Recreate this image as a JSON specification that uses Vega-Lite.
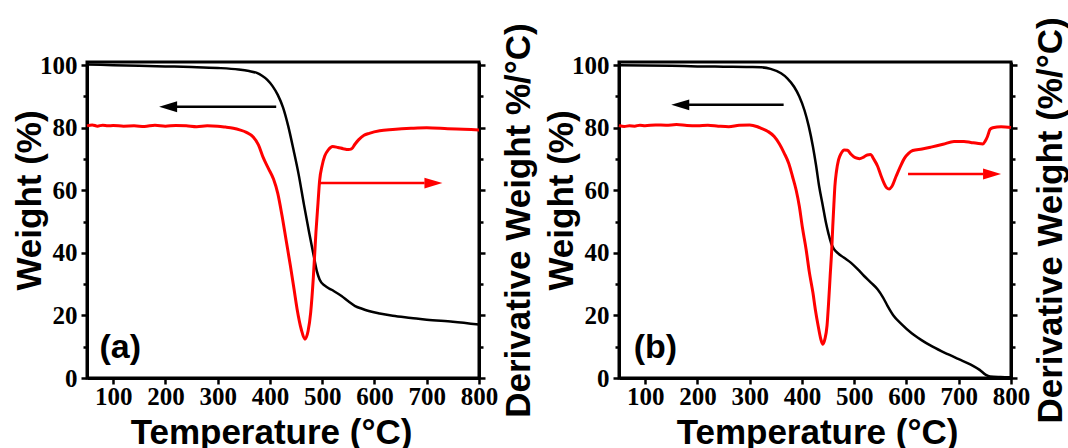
{
  "$schema": "https://vega.github.io/schema/vega-lite/v6.json",
  "background": "white",
  "autosize": {"type": "pad"},
  "padding": {"left": 10, "top": 15, "right": 0, "bottom": -3},
  "bounds": "flush",
  "spacing": 140,
  "config": {
    "view": {"stroke": "black", "strokeWidth": 3},
    "axis": {
      "grid": false,
      "domainColor": "black", "domainWidth": 3,
      "tickColor": "black", "tickWidth": 2.5,
      "labelOverlap": false, "labelFlush": false, "labelBound": false,
      "labelFont": "Liberation Serif", "labelFontWeight": "bold", "labelFontSize": 25, "labelColor": "black",
      "titleFont": "Liberation Sans", "titleFontWeight": "bold", "titleFontSize": 35, "titleColor": "black"
    }
  },
  "datasets": {
    "wa": [
      {"T":50,"W":100.2},{"T":100,"W":100},{"T":150,"W":99.8},{"T":200,"W":99.6},{"T":250,"W":99.4},{"T":300,"W":99.1},{"T":340,"W":98.6},{"T":360,"W":98.1},{"T":375,"W":97.5},{"T":385,"W":96.6},{"T":395,"W":95.3},{"T":405,"W":93.3},{"T":415,"W":90.5},{"T":425,"W":86.5},{"T":435,"W":80.5},{"T":445,"W":73},{"T":455,"W":65},{"T":465,"W":55.5},{"T":475,"W":46.5},{"T":485,"W":38},{"T":490,"W":34},{"T":495,"W":31.5},{"T":505,"W":29.5},{"T":518,"W":28.2},{"T":537,"W":26.2},{"T":550,"W":24.5},{"T":563,"W":23},{"T":575,"W":22.2},{"T":589,"W":21.4},{"T":610,"W":20.6},{"T":635,"W":19.9},{"T":670,"W":19.2},{"T":700,"W":18.6},{"T":750,"W":18},{"T":800,"W":17.1}
    ],
    "da": [
      {"T":50,"W":80.6},{"T":60,"W":80.9},{"T":70,"W":80.5},{"T":80,"W":80.8},{"T":90,"W":80.6},{"T":100,"W":80.7},{"T":120,"W":80.5},{"T":140,"W":80.6},{"T":160,"W":80.4},{"T":180,"W":80.8},{"T":200,"W":80.5},{"T":220,"W":80.7},{"T":240,"W":80.6},{"T":260,"W":80.3},{"T":280,"W":80.6},{"T":300,"W":80.5},{"T":315,"W":80.2},{"T":330,"W":79.8},{"T":342,"W":79.3},{"T":355,"W":78.5},{"T":368,"W":77},{"T":378,"W":74.5},{"T":387,"W":70.5},{"T":397,"W":67},{"T":407,"W":63.5},{"T":415,"W":59},{"T":423,"W":52},{"T":431,"W":44},{"T":439,"W":36},{"T":446,"W":28.5},{"T":452,"W":22},{"T":460,"W":15.5},{"T":467,"W":12.4},{"T":473,"W":15},{"T":478,"W":21},{"T":483,"W":32},{"T":488,"W":46.5},{"T":492,"W":56},{"T":495,"W":63},{"T":500,"W":68},{"T":505,"W":71},{"T":512,"W":73},{"T":520,"W":74},{"T":530,"W":73.7},{"T":540,"W":73.3},{"T":550,"W":73},{"T":556,"W":73.2},{"T":563,"W":74.8},{"T":570,"W":76.2},{"T":580,"W":77.6},{"T":590,"W":78.2},{"T":610,"W":79},{"T":635,"W":79.4},{"T":670,"W":79.8},{"T":700,"W":80},{"T":740,"W":79.7},{"T":770,"W":79.5},{"T":800,"W":79.3}
    ],
    "wb": [
      {"T":50,"W":100},{"T":100,"W":99.9},{"T":150,"W":99.8},{"T":200,"W":99.6},{"T":250,"W":99.5},{"T":300,"W":99.4},{"T":322,"W":99.3},{"T":340,"W":98.8},{"T":360,"W":97.4},{"T":372,"W":95.8},{"T":385,"W":93.1},{"T":395,"W":90},{"T":405,"W":85.5},{"T":413,"W":80.5},{"T":421,"W":74},{"T":427,"W":68},{"T":433,"W":61.2},{"T":440,"W":55},{"T":446,"W":49.6},{"T":451,"W":46},{"T":456,"W":43},{"T":461,"W":41.3},{"T":466,"W":40.3},{"T":480,"W":38.5},{"T":494,"W":36.8},{"T":507,"W":34.7},{"T":519,"W":32.6},{"T":532,"W":30.5},{"T":545,"W":28.3},{"T":555,"W":25.8},{"T":564,"W":23},{"T":575,"W":20},{"T":590,"W":17.3},{"T":610,"W":14.3},{"T":628,"W":12.2},{"T":650,"W":10},{"T":679,"W":7.6},{"T":700,"W":6},{"T":723,"W":4.3},{"T":740,"W":2.6},{"T":752,"W":1},{"T":760,"W":0.5},{"T":780,"W":0.3},{"T":800,"W":0.2}
    ],
    "db": [
      {"T":50,"W":80.7},{"T":60,"W":80.4},{"T":70,"W":80.6},{"T":80,"W":80.5},{"T":90,"W":80.8},{"T":100,"W":80.6},{"T":120,"W":80.9},{"T":140,"W":80.8},{"T":160,"W":81},{"T":180,"W":80.7},{"T":200,"W":80.6},{"T":220,"W":80.8},{"T":240,"W":80.5},{"T":260,"W":80.3},{"T":280,"W":80.8},{"T":300,"W":80.9},{"T":315,"W":80.3},{"T":322,"W":79.8},{"T":335,"W":78.8},{"T":347,"W":77.2},{"T":357,"W":74.8},{"T":366,"W":71.9},{"T":375,"W":68.5},{"T":382,"W":64.4},{"T":389,"W":60},{"T":395,"W":54.9},{"T":401,"W":48},{"T":408,"W":41.1},{"T":414,"W":34},{"T":421,"W":27.3},{"T":426,"W":21.5},{"T":431,"W":16.7},{"T":436,"W":12.5},{"T":440,"W":10.8},{"T":444,"W":12.5},{"T":448,"W":16.7},{"T":451,"W":24},{"T":454,"W":32.6},{"T":457,"W":41},{"T":459,"W":48.5},{"T":461,"W":55},{"T":463,"W":61.2},{"T":466,"W":66},{"T":470,"W":69.7},{"T":475,"W":71.8},{"T":481,"W":72.9},{"T":487,"W":72.8},{"T":494,"W":71.5},{"T":502,"W":70.4},{"T":510,"W":70.1},{"T":518,"W":70.6},{"T":525,"W":71.3},{"T":531,"W":71.4},{"T":538,"W":69.8},{"T":545,"W":67.6},{"T":551,"W":64.8},{"T":557,"W":62.3},{"T":562,"W":60.8},{"T":567,"W":60.4},{"T":572,"W":61.2},{"T":580,"W":64.4},{"T":588,"W":67.5},{"T":596,"W":70.2},{"T":604,"W":71.8},{"T":612,"W":72.7},{"T":630,"W":73.2},{"T":647,"W":73.8},{"T":670,"W":74.7},{"T":691,"W":75.6},{"T":710,"W":75.6},{"T":723,"W":75.3},{"T":735,"W":75},{"T":746,"W":74.8},{"T":751,"W":75.8},{"T":755,"W":77.2},{"T":760,"W":79.5},{"T":765,"W":80},{"T":781,"W":80.3},{"T":800,"W":80.1}
    ],
    "arrows": [
      {"p":"a","s":"weight","dir":"left","tip":188,"base":222,"tail":412,"W":86.7},
      {"p":"a","s":"derivative","dir":"right","tip":730,"base":696,"tail":494,"W":62.3},
      {"p":"b","s":"weight","dir":"left","tip":150,"base":184,"tail":365,"W":87.3},
      {"p":"b","s":"derivative","dir":"right","tip":781,"base":747,"tail":603,"W":65.2}
    ],
    "labels": [
      {"p":"a","T":74,"W":6.5,"text":"(a)"},
      {"p":"b","T":78,"W":6.5,"text":"(b)"}
    ]
  },
  "hconcat": [
    {
      "width": 392, "height": 316,
      "layer": [
        {
          "data": {"name": "wa"},
          "mark": {"type": "line", "color": "black", "strokeWidth": 2.5, "interpolate": "monotone"},
          "encoding": {
            "x": {"field": "T", "type": "quantitative", "scale": {"domain": [50, 800], "nice": false},
              "axis": {"orient": "bottom", "title": "Temperature (°C)", "values": [100,150,200,250,300,350,400,450,500,550,600,650,700,750,800],
                "labelExpr": "datum.value % 100 === 0 ? datum.label : ''", "labelPadding": 0,
                "tickSize": {"condition": {"test": "datum.value % 100 === 0", "value": 6}, "value": 4},
                "titleBaseline": "alphabetic", "titleY": 65, "titleX": 184, "titleAlign": "center"}},
            "y": {"field": "W", "type": "quantitative", "scale": {"domain": [0, 101], "nice": false},
              "axis": {"orient": "left", "title": "Weight (%)", "values": [0,10,20,30,40,50,60,70,80,90,100],
                "labelExpr": "datum.value % 20 === 0 ? datum.label : ''", "labelPadding": 4,
                "tickSize": {"condition": {"test": "datum.value % 20 === 0", "value": 6}, "value": 4},
                "titleAngle": 270, "titleBaseline": "alphabetic", "titleX": -47, "titleY": 138, "titleAlign": "center"}}
          }
        },
        {
          "data": {"name": "da"},
          "mark": {"type": "line", "color": "#ff0000", "strokeWidth": 3, "interpolate": "monotone"},
          "encoding": {
            "x": {"field": "T", "type": "quantitative"},
            "y": {"field": "W", "type": "quantitative", "scale": {"domain": [0, 101], "nice": false},
              "axis": {"orient": "right", "title": "Derivative Weight %/°C)", "values": [0,10,20,30,40,50,60,70,80,90,100],
                "labels": false,
                "tickSize": {"condition": {"test": "datum.value % 20 === 0", "value": 6}, "value": 4},
                "titleAngle": 270, "titleBaseline": "alphabetic", "titleX": 50, "titleY": 158, "titleAlign": "center"}}
          }
        },
        {
          "data": {"name": "arrows"},
          "transform": [{"filter": "datum.p === 'a'"}],
          "mark": {"type": "rule", "strokeWidth": 2.5},
          "encoding": {
            "x": {"field": "tail", "type": "quantitative"},
            "x2": {"field": "base"},
            "y": {"field": "W", "type": "quantitative", "scale": {"domain": [0, 101], "nice": false}, "axis": null},
            "color": {"field": "s", "type": "nominal", "scale": {"domain": ["weight", "derivative"], "range": ["#000000", "#ff0000"]}, "legend": null}
          }
        },
        {
          "data": {"name": "arrows"},
          "transform": [{"filter": "datum.p === 'a'"}],
          "mark": {"type": "point", "filled": true, "size": 1296, "opacity": 1, "strokeWidth": 0},
          "encoding": {
            "x": {"field": "tip", "type": "quantitative"},
            "y": {"field": "W", "type": "quantitative", "scale": {"domain": [0, 101], "nice": false}, "axis": null},
            "shape": {"field": "dir", "type": "nominal", "scale": {"domain": ["left", "right"], "range": ["M0,0L1,-0.3L1,0.3Z", "M0,0L-1,-0.3L-1,0.3Z"]}, "legend": null},
            "color": {"field": "s", "type": "nominal", "scale": {"domain": ["weight", "derivative"], "range": ["#000000", "#ff0000"]}, "legend": null}
          }
        },
        {
          "data": {"name": "labels"},
          "transform": [{"filter": "datum.p === 'a'"}],
          "mark": {"type": "text", "align": "left", "baseline": "alphabetic", "font": "Liberation Sans", "fontWeight": "bold", "fontSize": 34, "color": "black"},
          "encoding": {
            "x": {"field": "T", "type": "quantitative"},
            "y": {"field": "W", "type": "quantitative", "scale": {"domain": [0, 101], "nice": false}, "axis": null},
            "text": {"field": "text"}
          }
        }
      ],
      "resolve": {"scale": {"y": "independent"}}
    },
    {
      "width": 392, "height": 316,
      "layer": [
        {
          "data": {"name": "wb"},
          "mark": {"type": "line", "color": "black", "strokeWidth": 2.5, "interpolate": "monotone"},
          "encoding": {
            "x": {"field": "T", "type": "quantitative", "scale": {"domain": [50, 800], "nice": false},
              "axis": {"orient": "bottom", "title": "Temperature (°C)", "values": [100,150,200,250,300,350,400,450,500,550,600,650,700,750,800],
                "labelExpr": "datum.value % 100 === 0 ? datum.label : ''", "labelPadding": 0,
                "tickSize": {"condition": {"test": "datum.value % 100 === 0", "value": 6}, "value": 4},
                "titleBaseline": "alphabetic", "titleY": 65, "titleX": 198, "titleAlign": "center"}},
            "y": {"field": "W", "type": "quantitative", "scale": {"domain": [0, 101], "nice": false},
              "axis": {"orient": "left", "title": "Weight (%)", "values": [0,10,20,30,40,50,60,70,80,90,100],
                "labelExpr": "datum.value % 20 === 0 ? datum.label : ''", "labelPadding": 4,
                "tickSize": {"condition": {"test": "datum.value % 20 === 0", "value": 6}, "value": 4},
                "titleAngle": 270, "titleBaseline": "alphabetic", "titleX": -47, "titleY": 138, "titleAlign": "center"}}
          }
        },
        {
          "data": {"name": "db"},
          "mark": {"type": "line", "color": "#ff0000", "strokeWidth": 3, "interpolate": "monotone"},
          "encoding": {
            "x": {"field": "T", "type": "quantitative"},
            "y": {"field": "W", "type": "quantitative", "scale": {"domain": [0, 101], "nice": false},
              "axis": {"orient": "right", "title": "Derivative Weight (%/°C)", "values": [0,10,20,30,40,50,60,70,80,90,100],
                "labels": false,
                "tickSize": {"condition": {"test": "datum.value % 20 === 0", "value": 6}, "value": 4},
                "titleAngle": 270, "titleBaseline": "alphabetic", "titleX": 50, "titleY": 158, "titleAlign": "center"}}
          }
        },
        {
          "data": {"name": "arrows"},
          "transform": [{"filter": "datum.p === 'b'"}],
          "mark": {"type": "rule", "strokeWidth": 2.5},
          "encoding": {
            "x": {"field": "tail", "type": "quantitative"},
            "x2": {"field": "base"},
            "y": {"field": "W", "type": "quantitative", "scale": {"domain": [0, 101], "nice": false}, "axis": null},
            "color": {"field": "s", "type": "nominal", "scale": {"domain": ["weight", "derivative"], "range": ["#000000", "#ff0000"]}, "legend": null}
          }
        },
        {
          "data": {"name": "arrows"},
          "transform": [{"filter": "datum.p === 'b'"}],
          "mark": {"type": "point", "filled": true, "size": 1296, "opacity": 1, "strokeWidth": 0},
          "encoding": {
            "x": {"field": "tip", "type": "quantitative"},
            "y": {"field": "W", "type": "quantitative", "scale": {"domain": [0, 101], "nice": false}, "axis": null},
            "shape": {"field": "dir", "type": "nominal", "scale": {"domain": ["left", "right"], "range": ["M0,0L1,-0.3L1,0.3Z", "M0,0L-1,-0.3L-1,0.3Z"]}, "legend": null},
            "color": {"field": "s", "type": "nominal", "scale": {"domain": ["weight", "derivative"], "range": ["#000000", "#ff0000"]}, "legend": null}
          }
        },
        {
          "data": {"name": "labels"},
          "transform": [{"filter": "datum.p === 'b'"}],
          "mark": {"type": "text", "align": "left", "baseline": "alphabetic", "font": "Liberation Sans", "fontWeight": "bold", "fontSize": 34, "color": "black"},
          "encoding": {
            "x": {"field": "T", "type": "quantitative"},
            "y": {"field": "W", "type": "quantitative", "scale": {"domain": [0, 101], "nice": false}, "axis": null},
            "text": {"field": "text"}
          }
        }
      ],
      "resolve": {"scale": {"y": "independent"}}
    }
  ]
}
